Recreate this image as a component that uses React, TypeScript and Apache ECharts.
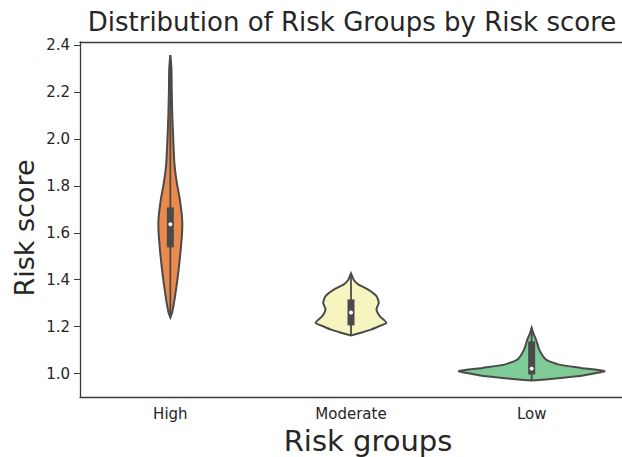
import React, { useEffect, useRef } from "react";
import * as echarts from "echarts";

const categories = ["High", "Moderate", "Low"];
const yTicks = [1.0, 1.2, 1.4, 1.6, 1.8, 2.0, 2.2, 2.4];

// violin profiles: score levels (top -> bottom) and half widths (fraction of category band)
const highScores = [2.357, 2.3, 2.2, 2.1, 2.0, 1.9, 1.85, 1.8, 1.75, 1.7, 1.65, 1.6, 1.55, 1.5, 1.45, 1.4, 1.35, 1.3, 1.26, 1.239];
const highWidths = [0, 0.006, 0.008, 0.011, 0.016, 0.022, 0.029, 0.039, 0.051, 0.06, 0.066, 0.065, 0.06, 0.054, 0.047, 0.039, 0.03, 0.02, 0.01, 0];

const moderateScores = [1.427, 1.4, 1.38, 1.358, 1.33, 1.302, 1.273, 1.245, 1.216, 1.2, 1.188, 1.175, 1.162];
const moderateWidths = [0, 0.015, 0.04, 0.095, 0.141, 0.154, 0.141, 0.159, 0.196, 0.15, 0.114, 0.06, 0];

const lowScores = [1.195, 1.17, 1.145, 1.102, 1.06, 1.038, 1.024, 1.01, 0.998, 0.988, 0.978, 0.97];
const lowWidths = [0, 0.01, 0.024, 0.042, 0.079, 0.152, 0.271, 0.403, 0.33, 0.253, 0.12, 0];

// inner box stats
const whiskerMin = [1.239, 1.162, 0.97];
const whiskerMax = [2.357, 1.427, 1.195];
const q1 = [1.538, 1.205, 0.996];
const q3 = [1.708, 1.316, 1.137];
const medians = [1.636, 1.26, 1.021];

const fills = ["#ea8a4c", "#f6f4bf", "#7fcb97"];

const profiles = [
  [highScores, highWidths],
  [moderateScores, moderateWidths],
  [lowScores, lowWidths],
];

export default function App() {
  const ref = useRef<HTMLDivElement>(null);
  useEffect(() => {
    const chart = echarts.init(ref.current!, null, { renderer: "svg" });
    const textColor = "#262626";
    chart.setOption({
      animation: false,
      grid: { left: 80, top: 42, width: 546, height: 355 },
      xAxis: [
        {
          type: "category",
          data: categories,
          boundaryGap: true,
          axisLine: { lineStyle: { color: "#3a3a3a", width: 1.3 } },
          axisTick: { alignWithLabel: true, length: 6, lineStyle: { color: "#3a3a3a" } },
          axisLabel: { color: textColor, fontSize: 15, fontFamily: "DejaVu Sans", margin: 9 },
        },
        {
          type: "category",
          data: categories,
          position: "top",
          axisLine: { show: true, lineStyle: { color: "#3a3a3a", width: 1.3 } },
          axisTick: { show: false },
          axisLabel: { show: false },
        },
      ],
      yAxis: {
        type: "value",
        min: 0.9,
        max: 2.413,
        splitLine: { show: false },
        axisLine: { show: true, lineStyle: { color: "#3a3a3a", width: 1.3 } },
        axisTick: { show: true, length: 6, customValues: yTicks, lineStyle: { color: "#3a3a3a" } },
        axisLabel: {
          color: textColor,
          fontSize: 15,
          fontFamily: "DejaVu Sans",
          margin: 10,
          customValues: yTicks,
          formatter: (v: number) => v.toFixed(1),
        },
      },
      series: [
        {
          type: "custom",
          xAxisIndex: 0,
          data: categories.map((_, i) => [i]),
          renderItem: (params: any, api: any) => {
            const i = api.value(0);
            const [scores, widths] = profiles[i];
            const cx = api.coord([i, 1])[0];
            const band = api.size([1, 0])[0];
            const left: number[][] = [];
            const right: number[][] = [];
            for (let k = 0; k < scores.length; k++) {
              const y = api.coord([i, scores[k]])[1];
              left.push([cx - widths[k] * band, y]);
              right.push([cx + widths[k] * band, y]);
            }
            const pts = left.concat(right.reverse());
            const yMin = api.coord([i, whiskerMin[i]])[1];
            const yMax = api.coord([i, whiskerMax[i]])[1];
            const yQ1 = api.coord([i, q1[i]])[1];
            const yQ3 = api.coord([i, q3[i]])[1];
            const yMed = api.coord([i, medians[i]])[1];
            const bw = 7;
            return {
              type: "group",
              children: [
                {
                  type: "polygon",
                  shape: { points: pts, smooth: 0.2 },
                  style: { fill: fills[i], stroke: "#4a4a4a", lineWidth: 2 },
                },
                {
                  type: "line",
                  shape: { x1: cx, y1: yMin, x2: cx, y2: yMax },
                  style: { stroke: "#4a4a4a", lineWidth: 1.8 },
                },
                {
                  type: "rect",
                  shape: { x: cx - bw / 2, y: yQ3, width: bw, height: yQ1 - yQ3 },
                  style: { fill: "#4a4a4a" },
                },
                {
                  type: "circle",
                  shape: { cx: cx, cy: yMed, r: 2 },
                  style: { fill: "#ffffff" },
                },
              ],
            };
          },
        },
      ],
      graphic: [
        {
          type: "text",
          x: 352,
          y: 22,
          style: {
            text: "Distribution of Risk Groups by Risk score",
            fill: textColor,
            font: "26px 'DejaVu Sans'",
            textAlign: "center",
            textVerticalAlign: "middle",
          },
        },
        {
          type: "text",
          x: 368,
          y: 441,
          style: {
            text: "Risk groups",
            fill: textColor,
            font: "29px 'DejaVu Sans'",
            textAlign: "center",
            textVerticalAlign: "middle",
          },
        },
        {
          type: "text",
          x: 24,
          y: 228,
          rotation: Math.PI / 2,
          style: {
            text: "Risk score",
            fill: textColor,
            font: "27px 'DejaVu Sans'",
            textAlign: "center",
            textVerticalAlign: "middle",
          },
        },
      ],
    });
    return () => chart.dispose();
  }, []);
  return <div ref={ref} style={{ width: 622, height: 457, position: "absolute", left: 0, top: 0 }} />;
}
